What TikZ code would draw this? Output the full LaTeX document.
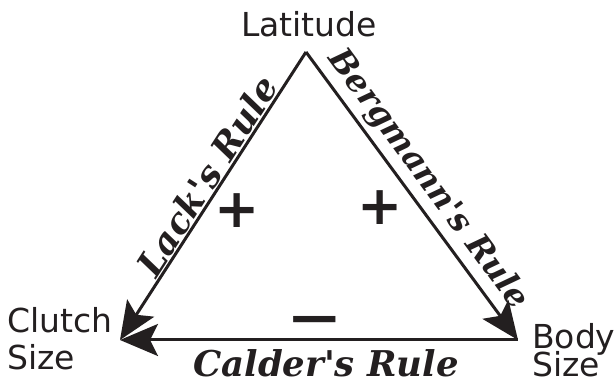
\documentclass[tikz,border=0pt]{standalone}
\usepackage{fontspec}
\setsansfont{DejaVu Sans}
\newfontfamily\rulefont{DejaVu Serif}
\usetikzlibrary{arrows.meta,positioning}
\definecolor{inkBlack}{RGB}{35, 31, 32}

\begin{document}
\begin{tikzpicture}[
  x=1pt, y=1pt,
  axislabel/.style={
    font=\sffamily\fontsize{33}{37}\selectfont,
    text=inkBlack,
    inner sep=0pt,
    align=left
  },
  rulelabel/.style={
    font=\rulefont\bfseries\itshape\fontsize{35.5}{38}\selectfont,
    text=inkBlack,
    inner sep=2pt
  },
  sign/.style={
    font=\sffamily\bfseries\fontsize{54}{54}\selectfont,
    text=inkBlack,
    inner sep=0pt
  },
  arrow/.style={
    -{Stealth[length=38pt,width=32pt,inset=8pt]},
    line width=3pt,
    inkBlack
  }
]
  \useasboundingbox (0,0) rectangle (614,385);
  \coordinate (apex) at (306,333);
  \coordinate (clutch) at (120,45);
  \coordinate (body) at (518,45);

  \node[axislabel,anchor=base] (latitude) at (309,348) {Latitude};
  \node[axislabel,anchor=base west] (clutchlabel) at (7,52) {Clutch};
  \node[axislabel,anchor=base west] (clutchsize) at (7,15) {Size};
  \node[axislabel,anchor=base west] (bodylabel) at (532,36) {Body};
  \node[axislabel,anchor=base west] (bodysize) at (532,8) {Size};

  \draw[arrow] (apex) -- (clutch);
  \draw[arrow] (apex) -- (body);
  \draw[arrow,{Stealth[length=38pt,width=32pt,inset=8pt]}-] (clutch) -- (body);

  \path (clutch) -- node[rulelabel,pos=0.54,sloped,above] (lack) {Lack's Rule} (apex);
  \path (apex) -- node[rulelabel,pos=0.49,sloped,above,inner sep=6pt,
    font=\rulefont\bfseries\itshape\fontsize{32.5}{36}\selectfont] (bergmann) {Bergmann's Rule} (body);
  \node[rulelabel,anchor=base,inner sep=0pt] (calder) at (326,8) {Calder's Rule};

  \node[sign] (plusleft) at (237,174) {+};
  \node[sign] (plusright) at (380,177) {+};
  \node[sign] (minus) at (315,59) {\scalebox{1.25}[1]{−}};
\end{tikzpicture}
\end{document}
